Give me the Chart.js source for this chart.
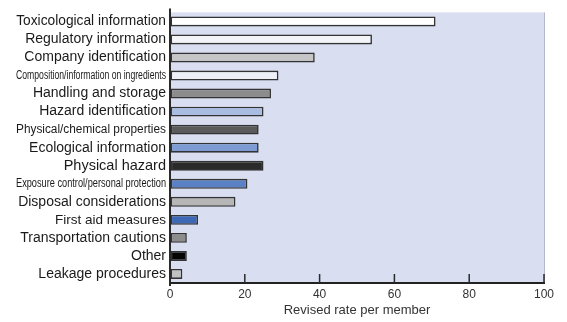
<!DOCTYPE html>
<html><head><meta charset="utf-8">
<script src="https://cdn.jsdelivr.net/npm/chart.js@4.4.1/dist/chart.umd.min.js"></script>
<style>html,body{margin:0;padding:0;background:#fff}#wrap{width:567px;height:322px;position:relative}</style>
</head><body><div id="wrap"><canvas id="c" width="567" height="322"></canvas></div>
<script>
const categories = [
  "Toxicological information",
  "Regulatory information",
  "Company identification",
  "Composition/information on ingredients",
  "Handling and storage",
  "Hazard identification",
  "Physical/chemical properties",
  "Ecological information",
  "Physical hazard",
  "Exposure control/personal protection",
  "Disposal considerations",
  "First aid measures",
  "Transportation cautions",
  "Other",
  "Leakage procedures"
];
const revisedRate = [71, 54, 38.7, 29, 27, 25, 23.7, 23.7, 25, 20.7, 17.5, 7.5, 4.5, 4.5, 3.3];
const xTicks = [0, 20, 40, 60, 80, 100];

const barColors = ["#ffffff","#f3f4f8","#c6c6c6","#eef0f8","#8c8c8c","#a9bde2","#5a5a5a","#7c9cd3","#2a2a2a","#5a80c6","#b6b6b6","#3d68b5","#8c8c8c","#050505","#c2c2c2"];
const labelMaxSize = [14,14,14,12,14,14,12,14,14.5,12,14,13.5,14,14,14];
const condensed = [false,false,false,true,false,false,true,false,false,true,false,false,false,false,false];
const labelTarget = 150;
const FONT = "'Liberation Sans', Arial, sans-serif";

const mctx = document.createElement('canvas').getContext('2d');
const labelSizes = categories.map((t, i) => {
  mctx.font = "12px " + FONT;
  const w = mctx.measureText(t).width;
  return condensed[i] ? labelMaxSize[i] : Math.min(labelMaxSize[i], 12 * labelTarget / w);
});

const plotBg = {
  id: 'plotBg',
  beforeDraw(chart) {
    const {ctx, chartArea: a} = chart;
    ctx.save();
    ctx.fillStyle = '#d9def0';
    ctx.fillRect(a.left, a.top, a.right - a.left, a.bottom - a.top);
    ctx.strokeStyle = '#b4b8c8';
    ctx.lineWidth = 1;
    ctx.beginPath(); ctx.moveTo(a.right + 0.5, a.top); ctx.lineTo(a.right + 0.5, a.bottom); ctx.stroke();
    ctx.restore();
  },
  afterDraw(chart) {
    const {ctx, chartArea: a} = chart;
    const xs = chart.scales.x, ys = chart.scales.y;
    ctx.save();
    ctx.strokeStyle = '#2a2a2a';
    ctx.lineWidth = 1.5;
    xTicks.forEach(v => {
      if (v === 0) return;
      const px = xs.getPixelForValue(v);
      ctx.beginPath(); ctx.moveTo(px, a.bottom); ctx.lineTo(px, a.bottom - 9); ctx.stroke();
    });
    ctx.lineWidth = 2;
    ctx.beginPath(); ctx.moveTo(a.left, a.top - 4); ctx.lineTo(a.left, a.bottom + 3); ctx.stroke();
    // condensed category labels (horizontally squeezed to fit the label column)
    ctx.fillStyle = '#1a1a1a';
    ctx.textAlign = 'right';
    ctx.textBaseline = 'middle';
    categories.forEach((t, i) => {
      if (!condensed[i]) return;
      ctx.font = labelSizes[i] + 'px ' + FONT;
      const w = ctx.measureText(t).width;
      const sx = Math.min(1, labelTarget / w);
      const py = ys.getPixelForValue(i);
      ctx.save();
      ctx.translate(a.left - 4, py);
      ctx.scale(sx, 1);
      ctx.fillText(t, 0, 0);
      ctx.restore();
    });
    ctx.restore();
  }
};

new Chart(document.getElementById('c'), {
  type: 'bar',
  data: {
    labels: categories,
    datasets: [{
      data: revisedRate,
      backgroundColor: barColors,
      borderColor: '#333333',
      borderWidth: 1.6,
      borderSkipped: false,
      barPercentage: 0.55,
      categoryPercentage: 1
    }]
  },
  options: {
    indexAxis: 'y',
    responsive: false,
    animation: false,
    events: [],
    layout: { padding: { top: 9, right: 23, left: 0, bottom: 0 } },
    plugins: { legend: { display: false }, tooltip: { enabled: false } },
    scales: {
      x: {
        type: 'linear', min: 0, max: 100,
        afterBuildTicks(scale) { scale.ticks = xTicks.map(v => ({ value: v })); },
        afterFit(scale) { scale.height = 39; },
        grid: { display: true, drawOnChartArea: false, drawTicks: false },
        border: { display: true, color: '#222222', width: 2 },
        ticks: { padding: 4, color: '#333333', font: { family: FONT, size: 12 }, maxRotation: 0 },
        title: { display: true, text: 'Revised rate per member', color: '#333333', font: { family: FONT, size: 13 }, padding: { top: 0, bottom: 4 } }
      },
      y: {
        type: 'category', offset: true,
        afterFit(scale) { scale.width = 170; },
        grid: { display: false, drawTicks: false },
        border: { display: true, color: '#222222', width: 2 },
        ticks: {
          padding: 4, color: '#1a1a1a', autoSkip: false,
          callback: (v, i) => condensed[i] ? '' : categories[i],
          font: (c) => ({ family: FONT, size: labelSizes[c.index] || 13 })
        }
      }
    }
  },
  plugins: [plotBg]
});
</script></body></html>
